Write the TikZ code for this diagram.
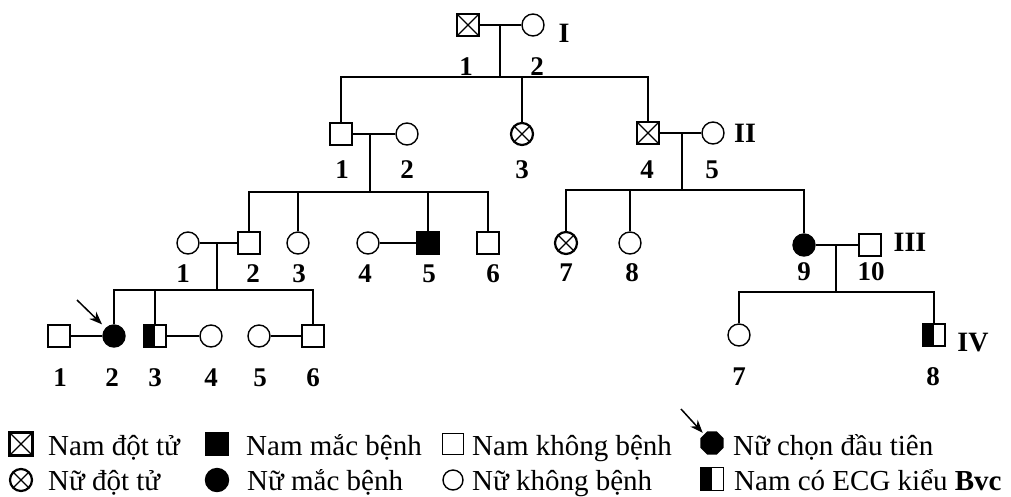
\documentclass[tikz,border=0pt]{standalone}
\usepackage{fontspec}
\setmainfont{Liberation Serif}
\usetikzlibrary{shapes.geometric,arrows.meta}

\tikzset{
  male/.style={draw, rectangle, minimum size=22pt, inner sep=0pt, line width=1.4pt},
  female/.style={draw, circle, minimum size=22pt, inner sep=0pt, line width=1.4pt},
  sick/.style={fill=black},
  dead/.style={line width=2.2pt, path picture={
      \draw[line width=1.3pt] (path picture bounding box.north west) -- (path picture bounding box.south east)
        (path picture bounding box.north east) -- (path picture bounding box.south west);}},
  bvc/.style={path picture={
      \fill (path picture bounding box.south west) rectangle (path picture bounding box.north);}},
  num/.style={font=\fontsize{27}{30}\selectfont\bfseries, inner sep=0pt},
  gen/.style={font=\fontsize{28}{31}\selectfont\bfseries, inner sep=0pt},
  keytext/.style={font=\fontsize{29}{32}\selectfont, anchor=base west, inner sep=0pt},
  rel/.style={line width=1.4pt},
  pointer/.style={line width=1.5pt, -{Stealth[length=13pt,width=10pt]}}
}

\begin{document}
\begin{tikzpicture}[x=1pt,y=-1pt]
  \useasboundingbox (0,0) rectangle (1011,496);

  % Generation I
  \node[male,dead] (I1) at (468,25) {};
  \node[female] (I2) at (533,25) {};
  \node[gen] (gI) at (564,33) {I};
  \node[num] (nI1) at (466,67) {1};
  \node[num] (nI2) at (537,67) {2};
  \coordinate (mI) at (500,25);
  \coordinate (sI) at (500,77);
  \draw[rel] (I1) -- (I2);
  \draw[rel] (mI) -- (sI);

  % Generation II
  \node[male] (II1) at (341,134) {};
  \node[female] (II2) at (407,134) {};
  \node[female,dead] (II3) at (522,134) {};
  \node[male,dead] (II4) at (648,133) {};
  \node[female] (II5) at (713,133) {};
  \node[gen] (gII) at (745,133) {II};
  \node[num] (nII1) at (342,170) {1};
  \node[num] (nII2) at (407,170) {2};
  \node[num] (nII3) at (522,170) {3};
  \node[num] (nII4) at (647,170) {4};
  \node[num] (nII5) at (712,170) {5};
  \draw[rel] (II1) |- (sI) -| (II4);
  \draw[rel] (II3) -- (II3 |- sI);
  \draw[rel] (II1) -- (II2);
  \draw[rel] (II4) -- (II5);
  \coordinate (mIIa) at (370,134);
  \coordinate (sIIa) at (370,192);
  \coordinate (mIIb) at (682,133);
  \coordinate (sIIb) at (682,190);
  \draw[rel] (mIIa) -- (sIIa);
  \draw[rel] (mIIb) -- (sIIb);

  % Generation III
  \node[female] (III1) at (188,243) {};
  \node[male] (III2) at (249,243) {};
  \node[female] (III3) at (298,243) {};
  \node[female] (III4) at (368,243) {};
  \node[male,sick] (III5) at (428,243) {};
  \node[male] (III6) at (488,243) {};
  \node[female,dead] (III7) at (566,243) {};
  \node[female] (III8) at (630,243) {};
  \node[female,sick] (III9) at (804,245) {};
  \node[male] (III10) at (870,245) {};
  \node[gen] (gIII) at (910,242) {III};
  \node[num] (nIII1) at (183,274) {1};
  \node[num] (nIII2) at (253,274) {2};
  \node[num] (nIII3) at (299,274) {3};
  \node[num] (nIII4) at (365,274) {4};
  \node[num] (nIII5) at (429,274) {5};
  \node[num] (nIII6) at (493,274) {6};
  \node[num] (nIII7) at (566,273) {7};
  \node[num] (nIII8) at (632,273) {8};
  \node[num] (nIII9) at (804,272) {9};
  \node[num] (nIII10) at (871,272) {10};
  \draw[rel] (III2) |- (sIIa) -| (III6);
  \draw[rel] (III3) -- (III3 |- sIIa);
  \draw[rel] (III5) -- (III5 |- sIIa);
  \draw[rel] (III7) |- (sIIb) -| (III9);
  \draw[rel] (III8) -- (III8 |- sIIb);
  \draw[rel] (III1) -- (III2);
  \draw[rel] (III4) -- (III5);
  \draw[rel] (III9) -- (III10);
  \coordinate (mIIIa) at (217,243);
  \coordinate (sIIIa) at (217,290);
  \coordinate (mIIIb) at (836,245);
  \coordinate (sIIIb) at (836,292);
  \draw[rel] (mIIIa) -- (sIIIa);
  \draw[rel] (mIIIb) -- (sIIIb);

  % Generation IV
  \node[male] (IV1) at (59,336) {};
  \node[female,sick] (IV2) at (114,336) {};
  \node[male,bvc] (IV3) at (155,336) {};
  \node[female] (IV4) at (211,336) {};
  \node[female] (IV5) at (259,336) {};
  \node[male] (IV6) at (313,336) {};
  \node[female] (IV7) at (739,335) {};
  \node[male,bvc] (IV8) at (934,335) {};
  \node[gen] (gIV) at (973,343) {IV};
  \node[num] (nIV1) at (60,378) {1};
  \node[num] (nIV2) at (112,378) {2};
  \node[num] (nIV3) at (155,378) {3};
  \node[num] (nIV4) at (211,378) {4};
  \node[num] (nIV5) at (260,378) {5};
  \node[num] (nIV6) at (313,378) {6};
  \node[num] (nIV7) at (739,377) {7};
  \node[num] (nIV8) at (933,377) {8};
  \draw[rel] (IV2) |- (sIIIa) -| (IV6);
  \draw[rel] (IV3) -- (IV3 |- sIIIa);
  \draw[rel] (IV7) |- (sIIIb) -| (IV8);
  \draw[rel] (IV1) -- (IV2);
  \draw[rel] (IV3) -- (IV4);
  \draw[rel] (IV5) -- (IV6);
  % proband
  \coordinate (pa) at (77,300);
  \draw[pointer, shorten >=5pt] (pa) -- (IV2);

  % Legend
  \node[male,dead,minimum size=23pt] (k1) at (21,444) {};
  \node[keytext] (t1) at (48,455) {Nam đột tử};
  \node[male,sick,minimum size=23pt] (k2) at (217,444) {};
  \node[keytext] (t2) at (246,455) {Nam mắc bệnh};
  \node[male,minimum size=21pt] (k3) at (453,444) {};
  \node[keytext] (t3) at (472,455) {Nam không bệnh};
  \node[regular polygon, regular polygon sides=8, fill, minimum size=25pt, inner sep=0pt] (k4) at (712,443) {};
  \node[keytext] (t4) at (733,455) {Nữ chọn đầu tiên};
  \coordinate (la) at (681,409);
  \draw[pointer, shorten >=2pt] (la) -- (k4);

  \node[female,dead] (k5) at (21,480) {};
  \node[keytext] (t5) at (48,490) {Nữ đột tử};
  \node[female,sick,minimum size=23pt] (k6) at (217,480) {};
  \node[keytext] (t6) at (247,490) {Nữ mắc bệnh};
  \node[female,minimum size=20pt] (k7) at (453,480) {};
  \node[keytext] (t7) at (472,490) {Nữ không bệnh};
  \node[male,bvc,minimum size=23pt] (k8) at (712,479) {};
  \node[keytext] (t8) at (734,490) {Nam có ECG kiểu \textbf{Bvc}};
\end{tikzpicture}
\end{document}
